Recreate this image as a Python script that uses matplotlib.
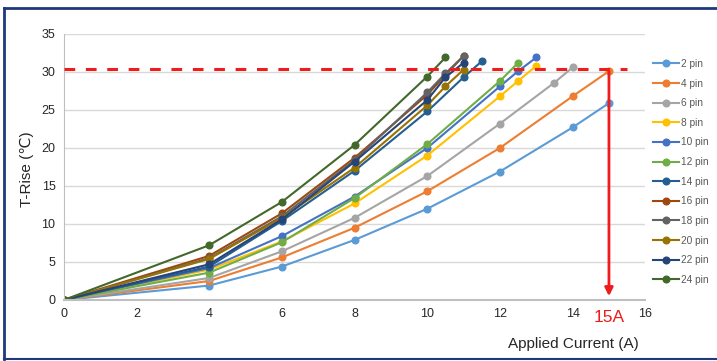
import numpy as np
import matplotlib
matplotlib.use("Agg")
import matplotlib.pyplot as plt
from matplotlib.lines import Line2D

plt.rcParams["font.family"] = ["Liberation Sans", "DejaVu Sans"]

# %% data
labels = ["2 pin", "4 pin", "6 pin", "8 pin", "10 pin", "12 pin",
          "14 pin", "16 pin", "18 pin", "20 pin", "22 pin", "24 pin"]
colors = ["#5B9BD5", "#ED7D31", "#A5A5A5", "#FFC000", "#4472C4", "#70AD47",
          "#255E91", "#9E480E", "#636363", "#997300", "#264478", "#43682B"]

x_2 = [0, 4, 6, 8, 10, 12, 14, 15]
y_2 = [0, 1.9, 4.4, 7.9, 12.0, 16.9, 22.7, 25.9]
x_4 = [0, 4, 6, 8, 10, 12, 14, 15]
y_4 = [0, 2.5, 5.6, 9.5, 14.3, 20.0, 26.8, 30.1]
x_6 = [0, 4, 6, 8, 10, 12, 13.5, 14]
y_6 = [0, 2.9, 6.4, 10.8, 16.3, 23.2, 28.6, 30.6]
x_8 = [0, 4, 6, 8, 10, 12, 12.5, 13]
y_8 = [0, 4.0, 7.7, 12.7, 19.0, 26.8, 28.8, 30.8]
x_10 = [0, 4, 6, 8, 10, 12, 12.5, 13]
y_10 = [0, 4.2, 8.4, 13.6, 20.0, 28.1, 30.1, 31.9]
x_12 = [0, 4, 6, 8, 10, 12, 12.5]
y_12 = [0, 3.6, 7.6, 13.4, 20.5, 28.8, 31.2]
x_14 = [0, 4, 6, 8, 10, 11, 11.5]
y_14 = [0, 4.4, 10.4, 17.0, 24.8, 29.3, 31.4]
x_16 = [0, 4, 6, 8, 10, 10.5, 11]
y_16 = [0, 5.8, 11.4, 18.7, 27.0, 29.6, 32.1]
x_18 = [0, 4, 6, 8, 10, 10.5, 11]
y_18 = [0, 5.5, 11.0, 18.4, 27.3, 29.8, 32.1]
x_20 = [0, 4, 6, 8, 10, 10.5, 11]
y_20 = [0, 5.4, 10.8, 17.4, 25.6, 28.1, 30.3]
x_22 = [0, 4, 6, 8, 10, 10.5, 11]
y_22 = [0, 4.7, 10.6, 18.2, 26.3, 29.3, 31.2]
x_24 = [0, 4, 6, 8, 10, 10.5]
y_24 = [0, 7.2, 12.9, 20.4, 29.4, 31.9]

xs = [x_2, x_4, x_6, x_8, x_10, x_12, x_14, x_16, x_18, x_20, x_22, x_24]
ys = [y_2, y_4, y_6, y_8, y_10, y_12, y_14, y_16, y_18, y_20, y_22, y_24]

limit_temp = 30.4
limit_current = 15
limit_rise = 30.1

# %% plot
fig = plt.figure(figsize=(7.17, 3.61), dpi=100)
ax = fig.add_axes([0.089, 0.169, 0.811, 0.737])

for x, y, c, lab in zip(xs, ys, colors, labels):
    ax.plot(x, y, "-o", color=c, lw=1.5, ms=4.8, label=lab)

ax.plot([0, 15.5], [limit_temp, limit_temp], color="#EE1C1C", lw=2.2,
        ls=(0, (3.5, 3.5)), zorder=5)
ax.annotate("", xy=(limit_current, 0.5), xytext=(limit_current, limit_rise),
            arrowprops=dict(arrowstyle="-|>", color="#EE1C1C", lw=2,
                            mutation_scale=12, shrinkA=0, shrinkB=0),
            zorder=6)
ax.text(limit_current, -1.3, "15A", color="#EE1C1C", fontsize=12.5,
        ha="center", va="top")

ax.set_xlim(0, 16)
ax.set_ylim(0, 35)
ax.set_xticks(np.arange(0, 17, 2))
ax.set_yticks(np.arange(0, 36, 5))
ax.grid(axis="y", color="#D9D9D9", lw=1)
ax.set_axisbelow(True)
for s in ["top", "right"]:
    ax.spines[s].set_visible(False)
ax.spines["left"].set_color("#BFBFBF")
ax.spines["bottom"].set_color("#BFBFBF")
ax.spines["bottom"].set_linewidth(1.5)
ax.tick_params(length=0, labelsize=9, colors="#262626", pad=6)

fig.text(0.80, 0.035, "Applied Current (A)", fontsize=11, ha="center",
         color="#262626")
fig.text(0.038, 0.53, "T-Rise (\u2103)", fontsize=11, rotation=90,
         ha="center", va="center", color="#262626")

leg = fig.legend(loc="upper left", bbox_to_anchor=(0.905, 0.848),
                 frameon=False, fontsize=7.3, labelspacing=0.95,
                 handlelength=2.6, handletextpad=0.15, borderaxespad=0)
for t in leg.get_texts():
    t.set_color("#595959")

# frame around the figure
border = "#1F3A7A"
fig.add_artist(Line2D([0.006, 1.0], [0.977, 0.977], color=border, lw=2))
fig.add_artist(Line2D([0.006, 0.006], [0.006, 0.977], color=border, lw=2))
fig.add_artist(Line2D([0.006, 1.0], [0.006, 0.006], color=border, lw=1.5))

fig.savefig("out.png", dpi=100)
